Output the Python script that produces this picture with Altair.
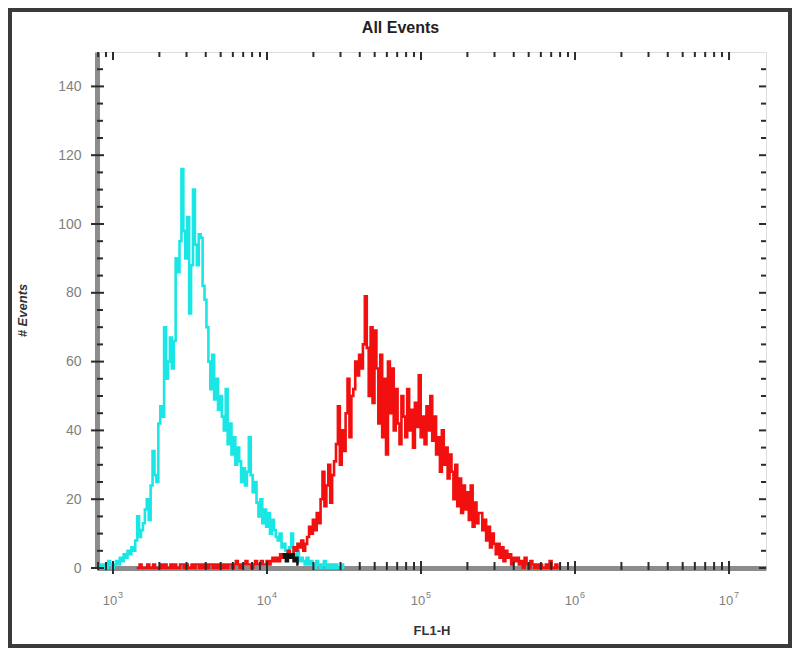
import altair as alt
import pandas as pd

# ---------------- data ----------------
BIN_LOG = 0.0125          # histogram channel width, in decades
CYAN_LOG0 = 2.913         # first channel of the cyan histogram (log10 FL1-H)
RED_LOG0 = 3.154          # first channel of the red histogram
BLACK_LOG0 = 4.104        # first channel of the small black overlap trace

cyan_counts = [
    0, 1, 0, 1, 0, 2, 1, 0,
    1, 2, 1, 3, 2, 4, 3, 5,
    4, 6, 5, 8, 15, 9, 11, 13, 17, 20,
    14, 24, 34, 27, 25, 42, 47, 44, 70, 55,
    60, 67, 58, 66, 90, 86, 95, 116, 98, 90,
    102, 74, 88, 110, 94, 88, 97, 96, 82, 78,
    70, 60, 52, 62, 49, 55, 46, 50, 44, 40,
    52, 36, 42, 33, 38, 30, 35, 31, 25, 29,
    24, 28, 38, 27, 22, 25, 19, 15, 20, 13,
    17, 12, 16, 10, 14, 11, 9, 8, 10, 6,
    7, 5, 4, 6, 10, 4, 3, 5, 2, 3,
    2, 1, 3, 1, 2, 1, 0, 2, 1, 0,
    1, 2, 0, 1, 0, 1, 0, 1, 0, 0, 1, 0,
]

red_counts = [
    0, 0, 1, 0, 0, 0, 1, 0, 0, 1,
    0, 0, 0, 1, 0, 1, 0, 0, 1, 0,
    1, 0, 0, 1, 1, 0, 1, 0, 0, 1,
    0, 1, 1, 0, 1, 0, 1, 0, 1, 1,
    0, 1, 0, 1, 1, 0, 1, 0, 1, 1,
    0, 1, 2, 1, 0, 1, 1, 2, 1, 1,
    0, 1, 2, 1, 1, 2, 1,
    1, 2, 1, 2, 3, 2, 3, 2, 4, 3,
    3, 4, 5, 3, 4, 6, 5, 7,
    6, 8, 5, 7, 9,
    12, 10, 14, 11, 16, 13,
    20, 28, 18,
    24, 30, 19, 27, 31,
    36, 47,
    30, 40, 34,
    45, 55, 38, 50,
    52, 60, 56, 62, 58,
    65, 79,
    64, 50, 70,
    48, 69, 58,
    42, 62, 38, 55, 33, 60,
    45, 58, 40, 52,
    42, 36, 50, 44, 38, 52, 40, 46, 35, 48, 41, 56, 38, 44, 36, 47, 40,
    50, 37, 44, 33,
    38, 28, 40, 30, 35, 26, 33,
    28, 20, 30, 18, 26, 16, 24, 17,
    22, 14, 24, 12, 19, 13, 16,
    16, 11, 14, 8, 12, 6, 10, 7,
    4, 7, 3, 6, 2, 5, 3, 4, 1, 3, 2, 3,
    1, 2, 0, 3, 1, 0, 2, 1, 0, 1, 0,
    1, 0, 0, 1, 0, 2, 0, 0, 1, 0,
]

black_counts = [3, 4, 2, 4, 3, 4, 2, 3, 1]

x_major_ticks = [1e3, 1e4, 1e5, 1e6, 1e7]
x_tick_exponents = ["3", "4", "5", "6", "7"]
y_major_ticks = [0, 20, 40, 60, 80, 100, 120, 140]
chart_title = "All Events"

# ---------------- frames ----------------
def hist_frame(log0, counts):
    return pd.DataFrame({
        "fl1h": [10 ** (log0 + i * BIN_LOG) for i in range(len(counts))],
        "events": counts,
    })

cyan_df = hist_frame(CYAN_LOG0, cyan_counts)
red_df = hist_frame(RED_LOG0, red_counts)
black_df = hist_frame(BLACK_LOG0, black_counts)

x_minor = [m * 10 ** d for d in range(2, 7) for m in range(2, 10)]
x_minor = [v for v in x_minor if 787 <= v <= 1.7e7]
xt_major = pd.DataFrame({"fl1h": x_major_ticks, "base": "10",
                         "exp": x_tick_exponents})
xt_minor = pd.DataFrame({"fl1h": x_minor})
yt_major = pd.DataFrame({"events": y_major_ticks})
yt_minor = pd.DataFrame({"events": [v for v in range(5, 150, 5) if v % 20 != 0]})

W, H = 669, 516
PAD = {"left": 89, "top": 44, "right": 26, "bottom": 80}

x_scale = alt.Scale(type="log", domain=[787, 17380000], nice=False)
y_scale = alt.Scale(domain=[0, 150], nice=False)

x_axis = alt.Axis(
    values=x_major_ticks, labels=False, ticks=False, grid=False,
    domainColor="#8c8c8c", domainWidth=5,
    title="FL1-H", titleFont="Liberation Sans", titleFontSize=13,
    titleFontWeight="bold", titleColor="#333333", titleY=62,
    titleBaseline="middle",
)
y_axis = alt.Axis(
    values=y_major_ticks, ticks=False, grid=False,
    domainColor="#8c8c8c", domainWidth=5, labelPadding=16,
    labelFont="Liberation Sans", labelFontSize=14, labelColor="#808080",
    title="# Events", titleFont="Liberation Sans", titleFontSize=13,
    titleFontWeight="bold", titleFontStyle="italic", titleColor="#333333",
    titleAngle=270, titleX=-75, titleY=H / 2, titleAlign="center",
    titleBaseline="middle",
)

def hist_line(df, color, axes=False):
    if axes:
        xe = alt.X("fl1h:Q", scale=x_scale, axis=x_axis)
        ye = alt.Y("events:Q", scale=y_scale, axis=y_axis)
    else:
        xe = alt.X("fl1h:Q", scale=x_scale)
        ye = alt.Y("events:Q", scale=y_scale)
    return alt.Chart(df).mark_line(
        color=color, strokeWidth=2.6, interpolate="step"
    ).encode(x=xe, y=ye)

cyan = hist_line(cyan_df, "#1BE6E6", axes=True)
red = hist_line(red_df, "#F20F0F")
black = hist_line(black_df, "#111111")

TICK = "#2b2b2b"

def vticks(df, y0, y1):
    return alt.Chart(df).mark_rule(color=TICK, strokeWidth=2).encode(
        x=alt.X("fl1h:Q", scale=x_scale),
        y=alt.value(y0), y2=alt.value(y1),
    )

def hticks(df, x0, x1):
    return alt.Chart(df).mark_rule(color=TICK, strokeWidth=2).encode(
        y=alt.Y("events:Q", scale=y_scale),
        x=alt.value(x0), x2=alt.value(x1),
    )

ticks = [
    vticks(xt_major, H + 6, H - 7),
    vticks(xt_minor, H + 2, H - 6),
    vticks(xt_major, 0, 8),
    vticks(xt_minor, 0, 5),
    hticks(yt_major, -6, 7),
    hticks(yt_minor, 0, 6),
    hticks(yt_major, W - 7, W),
    hticks(yt_minor, W - 5, W),
]

# x tick labels: "10" with a raised exponent
x_lab_base = alt.Chart(xt_major).mark_text(
    font="Liberation Sans", fontSize=13, color="#808080",
    align="center", baseline="middle", dx=-3,
).encode(x=alt.X("fl1h:Q", scale=x_scale), y=alt.value(H + 33), text="base:N")
x_lab_exp = alt.Chart(xt_major).mark_text(
    font="Liberation Sans", fontSize=9, color="#808080",
    align="left", baseline="middle", dx=5, dy=-6,
).encode(x=alt.X("fl1h:Q", scale=x_scale), y=alt.value(H + 33), text="exp:N")

one_row = alt.Data(values=[{"t": chart_title}])

frame = alt.Chart(one_row).mark_rect(
    fill=None, stroke="#3a3a3a", strokeWidth=4
).encode(
    x=alt.value(-PAD["left"] + 2), x2=alt.value(W + PAD["right"] - 2),
    y=alt.value(-PAD["top"] + 2), y2=alt.value(H + PAD["bottom"] - 2),
)

title = alt.Chart(one_row).mark_text(
    font="Liberation Sans", fontSize=16, fontWeight="bold", color="#222222",
    align="center", baseline="middle",
).encode(
    text="t:N", x=alt.value(W / 2 - 31), y=alt.value(-24),
)

chart = alt.layer(
    cyan, red, black, *ticks, x_lab_base, x_lab_exp, frame, title
).properties(
    width=W, height=H,
    padding=PAD,
    autosize=alt.AutoSizeParams(type="none"),
).configure_view(
    fill="#F5F5F9", stroke="#8c8c8c", strokeWidth=2
).configure(background="#FFFFFF")

chart.save("out.html", embed_options={"renderer": "svg", "actions": False})
